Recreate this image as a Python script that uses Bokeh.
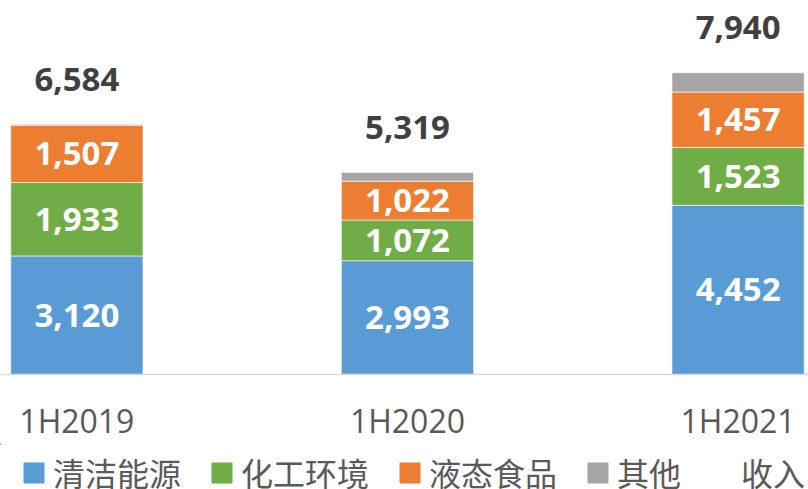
from bokeh.plotting import figure
from bokeh.layouts import column
from bokeh.models import ColumnDataSource, Range1d, FixedTicker, Legend, LegendItem
from bokeh.core.properties import value
from bokeh.embed import file_html
from bokeh.resources import INLINE

categories = ["1H2019", "1H2020", "1H2021"]
clean_energy = [3120, 2993, 4452]
chem_env = [1933, 1072, 1523]
liquid_food = [1507, 1022, 1457]
other = [24, 232, 508]
totals = [6584, 5319, 7940]
series_names = ["清洁能源", "化工环境", "液态食品", "其他"]
total_name = "收入"
colors = ["#5B9BD5", "#70AD47", "#ED7D31", "#A5A5A5"]

xs = list(range(len(categories)))
series = [clean_energy, chem_env, liquid_food, other]
keys = ["s0", "s1", "s2", "s3"]
data = {"x": xs, "total": totals}
for k, s in zip(keys, series):
    data[k] = s
source = ColumnDataSource(data)

p = figure(frame_width=808, frame_height=374, output_backend="svg", toolbar_location=None,
           x_range=Range1d(-0.231, 2.213), y_range=Range1d(0, 9842),
           y_axis_location=None,
           min_border_left=0, min_border_right=0, min_border_top=0, min_border_bottom=0)
p.outline_line_color = None
p.xgrid.visible = False
p.ygrid.visible = False

renderers = p.vbar_stack(keys, x="x", width=0.4, source=source, color=colors,
                         line_color="white", line_width=0.6)

# segment labels
lx, ly, lt = [], [], []
for i in xs:
    bottom = 0
    for j, s in enumerate(series):
        v = s[i]
        if j < 3:
            lx.append(i)
            ly.append(bottom + v / 2)
            lt.append(f"{v:,}")
        bottom += v
p.text(lx, ly, text=lt, text_color="white", text_font=value("Open Sans"),
       text_font_style="bold", text_font_size="33px", text_align="center",
       text_baseline="middle")

# totals
p.text(xs, totals, text=[f"{t:,}" for t in totals], text_color="#404040",
       text_font=value("Open Sans"), text_font_style="bold", text_font_size="33px",
       text_align="center", text_baseline="middle", y_offset=-45)

ax = p.xaxis[0]
ax.ticker = FixedTicker(ticks=xs)
ax.major_label_overrides = {i: c for i, c in zip(xs, categories)}
ax.major_label_text_font = "Open Sans"
ax.major_label_text_font_size = "32px"
ax.major_label_text_color = "#595959"
ax.major_tick_line_color = None
ax.minor_tick_line_color = None
ax.axis_line_color = "#D9D9D9"
ax.axis_line_width = 1.5
ax.major_label_standoff = 18

# legend strip (its renderers use the same data, kept far out of the strip's view)
p2 = figure(width=808, height=53, output_backend="svg", toolbar_location=None,
            x_range=Range1d(100, 101), y_range=Range1d(-200000, -100000),
            x_axis_location=None, y_axis_location=None,
            min_border_left=0, min_border_right=0, min_border_top=0, min_border_bottom=0)
p2.outline_line_color = None
p2.xgrid.visible = False
p2.ygrid.visible = False
leg_rs = p2.vbar_stack(keys, x="x", width=0.4, source=source, color=colors)
leg_total = p2.line(x="x", y="total", source=source, line_alpha=0)

items = [LegendItem(label=n, renderers=[r]) for n, r in zip(series_names, leg_rs)]
items.append(LegendItem(label=total_name, renderers=[leg_total]))
legend = Legend(items=items, orientation="horizontal", location=(21, 2),
                glyph_width=25, glyph_height=25, label_standoff=7, spacing=28,
                label_height=25,
                padding=0, margin=0, border_line_color=None, background_fill_alpha=0,
                label_text_font="Noto Sans CJK SC", label_text_font_size="32px",
                label_text_color="#595959")
p2.add_layout(legend, "center")

open("out.html", "w").write(file_html(column(p, p2, spacing=0), INLINE))
